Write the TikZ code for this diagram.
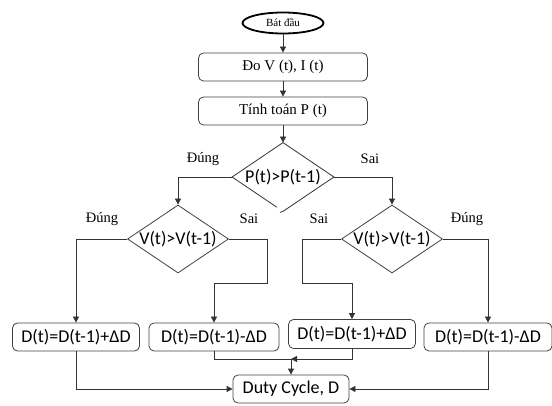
\documentclass[tikz,border=0pt]{standalone}
\usepackage{fontspec}
\setmainfont{Liberation Serif}
\newfontfamily\calibfont{Carlito}
\usetikzlibrary{shapes.geometric,calc,arrows.meta}
\tikzset{
	ln/.style={draw=black!80,line width=0.8pt},
	arr/.style={ln,-{Stealth[length=6pt,width=6pt,inset=0pt]}},
	box/.style={draw=black!75,line width=0.8pt,rounded corners=5pt,minimum height=28pt,inner sep=1pt},
	tbox/.style={box,minimum width=169pt,font=\fontsize{15}{17}\selectfont},
	dbox/.style={box,minimum width=127pt,font=\calibfont\fontsize{18}{20}\selectfont},
	cond/.style={diamond,aspect=1.5,inner sep=0pt,minimum width=101pt,minimum height=68pt,draw=black!75,line width=0.8pt,font=\calibfont\fontsize{18}{20}\selectfont},
	lbl/.style={font=\fontsize{14.5}{16}\selectfont}
}
\begin{document}
\begin{tikzpicture}[x=1pt,y=-1pt]
	\useasboundingbox (0,0) rectangle (552,406);

	\node[ellipse,draw,line width=1.8pt,minimum width=81pt,minimum height=21pt,inner sep=0pt,font=\fontsize{11}{12}\selectfont] (start) at (283,23) {Bát đầu};
	\node[tbox] (meas) at (283,67) {Đo V (t), I (t)};
	\node[tbox] (power) at (283,111) {Tính toán P (t)};

	\node[cond,draw=none] (cp) at (283,177) {P(t)>P(t-1)};
	\draw[ln] ($(cp.west)!0.88!(cp.south)$) -- (cp.west) -- (cp.north) -- (cp.east) -- (cp.south) -- ++(-3,1);
	\node[cond] (cvl) at (178,239) {V(t)>V(t-1)};
	\node[cond] (cvr) at (392,239) {V(t)>V(t-1)};

	\node[dbox] (inc1) at (76,337) {D(t)=D(t-1)+ΔD};
	\node[dbox,minimum width=130pt] (dec1) at (214,337) {D(t)=D(t-1)-ΔD};
	\node[dbox,minimum height=29pt] (inc2) at (352,334) {D(t)=D(t-1)+ΔD};
	\node[dbox,minimum width=128pt] (dec2) at (488,337) {D(t)=D(t-1)-ΔD};
	\node[dbox,minimum width=116pt] (duty) at (291,389) {Duty Cycle, D};

	\coordinate (b1) at (267,283);
	\coordinate (c1) at (302,283);
	\coordinate (j) at (291,359);

	\draw[arr] (start) -- (meas);
	\draw[arr] (meas) -- (power);
	\draw[arr] (power) -- (cp.north);
	\draw[arr] (cp.west) -| (cvl.north);
	\draw[arr] (cp.east) -| (cvr.north);
	\draw[arr] (cvl.west) -| (inc1.north);
	\draw[arr] (cvl.east) -| (b1) -| (dec1.north);
	\draw[arr] (cvr.west) -| (c1) -| (inc2.north);
	\draw[arr] (cvr.east) -| (dec2.north);
	\draw[arr] (inc1.south) |- (duty.west);
	\draw[arr] (dec2.south) |- (duty.east);
	\draw[ln] (dec1.south) |- (j);
	\draw[arr] (inc2.south) |- (j);
	\draw[arr] (j) -- (duty.north);

	\node[lbl] (y1) at (203,159) {Đúng};
	\node[lbl] (n1) at (370,159) {Sai};
	\node[lbl] (y2) at (102,219) {Đúng};
	\node[lbl] (n2) at (249,219) {Sai};
	\node[lbl] (n3) at (319,219) {Sai};
	\node[lbl] (y3) at (467,219) {Đúng};
\end{tikzpicture}
\end{document}
